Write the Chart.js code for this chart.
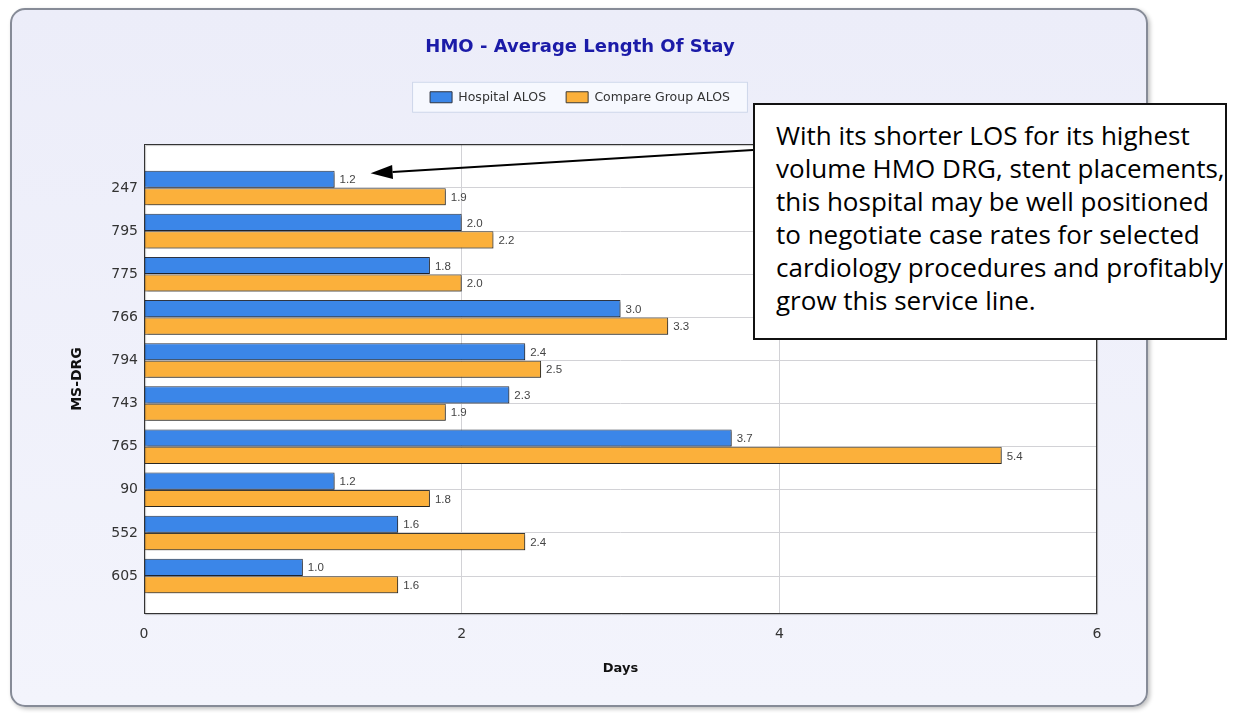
<!DOCTYPE html>
<html>
<head>
<meta charset="utf-8">
<script src="https://cdn.jsdelivr.net/npm/chart.js@4.4.0/dist/chart.umd.min.js"></script>
<style>
  body { margin: 0; background: #fff; width: 1243px; height: 713px; position: relative; overflow: hidden; }
  #panel {
    position: absolute; left: 10px; top: 8px; width: 1138px; height: 699px;
    box-sizing: border-box; border: 2px solid #868b97; border-radius: 15px;
    background: linear-gradient(#ecedf9, #f3f4fc);
    box-shadow: 2px 2px 4px rgba(0,0,0,0.25);
  }
  #chart { position: absolute; left: 10px; top: 8px; }
  #note {
    position: absolute; left: 753px; top: 103px; width: 474px; height: 237px;
    box-sizing: border-box; border: 2px solid #111; background: #fff;
    padding: 14px 0 0 21px;
    font-family: "Open Sans", sans-serif; font-size: 26px; line-height: 33px; color: #000;
    white-space: nowrap;
  }
</style>
</head>
<body>
<div id="panel"></div>
<canvas id="chart" width="1140" height="699"></canvas>
<div id="note">With its shorter LOS for its highest<br>volume HMO DRG, stent placements,<br>this hospital may be well positioned<br>to negotiate case rates for selected<br>cardiology procedures and profitably<br>grow this service line.</div>
<script>
// MS-DRG codes, top to bottom
const drgCodes = ["247", "795", "775", "766", "794", "743", "765", "90", "552", "605"];
const hospitalAlos = [1.2, 2.0, 1.8, 3.0, 2.4, 2.3, 3.7, 1.2, 1.6, 1.0];
const compareAlos = [1.9, 2.2, 2.0, 3.3, 2.5, 1.9, 5.4, 1.8, 2.4, 1.6];
const dayTicks = [0, 2, 4, 6];

const gridColor = "#d2d2d6";
const labelFont = "DejaVu Sans";

/*
-plot background, legend frame, bar shadows, value labels and the callout arrow
*/
const decorations = {
  id: "decorations",
  beforeInit(chart) {
    // leave room between the legend and the plot
    const fit = chart.legend.fit;
    chart.legend.fit = function () {
      fit.bind(chart.legend)();
      this.height += 30.5;
    };
  },
  beforeDraw(chart) {
    const ctx = chart.ctx;
    const a = chart.chartArea;
    ctx.save();
    ctx.fillStyle = "#fff";
    ctx.fillRect(a.left, a.top, a.right - a.left, a.bottom - a.top);
    const boxes = chart.legend.legendHitBoxes;
    if (boxes && boxes.length) {
      const first = boxes[0];
      const last = boxes[boxes.length - 1];
      const x1 = first.left - 18;
      const x2 = last.left + last.width + 18;
      const y1 = first.top + first.height / 2 - 15.5;
      ctx.fillStyle = "#f6f8fe";
      ctx.strokeStyle = "#cdd6ea";
      ctx.lineWidth = 1;
      ctx.fillRect(x1, y1, x2 - x1, 31);
      ctx.strokeRect(x1 + 0.5, y1 + 0.5, x2 - x1 - 1, 30);
    }
    ctx.restore();
  },
  beforeDatasetsDraw(chart) {
    const ctx = chart.ctx;
    ctx.save();
    ctx.shadowColor = "rgba(0,0,0,0.35)";
    ctx.shadowOffsetX = 2;
    ctx.shadowOffsetY = 2;
    ctx.shadowBlur = 2;
  },
  afterDatasetsDraw(chart) {
    const ctx = chart.ctx;
    ctx.restore();
    const a = chart.chartArea;
    ctx.save();
    ctx.font = "11.5px 'Liberation Sans'";
    ctx.fillStyle = "#444";
    ctx.textBaseline = "middle";
    chart.data.datasets.forEach((ds, di) => {
      chart.getDatasetMeta(di).data.forEach((bar, i) => {
        ctx.fillText(ds.data[i].x.toFixed(1), bar.x + 5, bar.y + 1);
      });
    });
    ctx.strokeStyle = "#333";
    ctx.lineWidth = 1;
    ctx.shadowColor = "rgba(0,0,0,0.25)";
    ctx.shadowOffsetX = 1;
    ctx.shadowOffsetY = 1;
    ctx.shadowBlur = 1;
    ctx.strokeRect(a.left + 0.5, a.top + 0.5, a.right - a.left - 1, a.bottom - a.top - 1);
    ctx.restore();
  },
  afterDraw(chart) {
    const ctx = chart.ctx;
    const note = document.getElementById("note");
    const canvas = chart.canvas;
    const sx = note.offsetLeft - canvas.offsetLeft;
    const sy = note.offsetTop - canvas.offsetTop + 47;
    const bar = chart.getDatasetMeta(0).data[0];
    const tx = bar.x + 36;
    const ty = bar.y - 6;
    const ang = Math.atan2(ty - sy, tx - sx);
    const headLen = 22;
    const headW = 7;
    const bx = tx - headLen * Math.cos(ang);
    const by = ty - headLen * Math.sin(ang);
    ctx.save();
    ctx.strokeStyle = "#000";
    ctx.fillStyle = "#000";
    ctx.lineWidth = 2;
    ctx.beginPath();
    ctx.moveTo(sx, sy);
    ctx.lineTo(bx, by);
    ctx.stroke();
    ctx.beginPath();
    ctx.moveTo(tx, ty);
    ctx.lineTo(bx + headW * Math.sin(ang), by - headW * Math.cos(ang));
    ctx.lineTo(bx - headW * Math.sin(ang), by + headW * Math.cos(ang));
    ctx.closePath();
    ctx.fill();
    ctx.restore();
  },
};

const ctx = document.getElementById("chart").getContext("2d");
const chart = new Chart(ctx, {
  type: "bar",
  data: {
    datasets: [
      {
        label: "Hospital ALOS",
        data: hospitalAlos.map((v, i) => ({ x: v, y: i })),
        backgroundColor: "#3b86e8",
        borderColor: "#2f3441",
        borderWidth: 1,
      },
      {
        label: "Compare Group ALOS",
        data: compareAlos.map((v, i) => ({ x: v, y: i })),
        backgroundColor: "#fbb03b",
        borderColor: "#3d3a33",
        borderWidth: 1,
      },
    ],
  },
  options: {
    indexAxis: "y",
    responsive: false,
    animation: false,
    categoryPercentage: 0.81,
    barPercentage: 0.98,
    layout: { padding: { left: 53, right: 53, top: 0, bottom: 0 } },
    plugins: {
      tooltip: { enabled: false },
      title: {
        display: true,
        text: "HMO - Average Length Of Stay",
        color: "#1b1ba8",
        font: { family: labelFont, size: 18, weight: "bold" },
        padding: { top: 29, bottom: 12.4 },
      },
      legend: {
        display: true,
        position: "top",
        labels: {
          boxWidth: 22,
          boxHeight: 11,
          padding: 20,
          color: "#333",
          font: { family: labelFont, size: 12.5 },
        },
      },
    },
    scales: {
      x: {
        type: "linear",
        min: 0,
        max: 6,
        afterBuildTicks: (scale) => {
          scale.ticks = dayTicks.map((v) => ({ value: v }));
        },
        afterFit: (scale) => {
          scale.height = 93;
        },
        grid: { color: gridColor, drawTicks: false },
        border: { display: false },
        ticks: { padding: 12, color: "#333", font: { family: labelFont, size: 14 } },
        title: {
          display: true,
          text: "Days",
          color: "#111",
          font: { family: labelFont, size: 13, weight: "bold" },
          padding: { top: 0, bottom: 31 },
        },
      },
      y: {
        type: "linear",
        reverse: true,
        offset: false,
        min: -1.02,
        max: 9.88,
        afterBuildTicks: (scale) => {
          scale.ticks = drgCodes.map((c, i) => ({ value: i }));
        },
        afterFit: (scale) => {
          scale.width = 81;
        },
        grid: { color: gridColor, drawTicks: false, offset: false },
        border: { display: false },
        ticks: {
          padding: 6,
          color: "#333",
          font: { family: labelFont, size: 14 },
          callback: (v) => drgCodes[v],
        },
        title: {
          display: true,
          text: "MS-DRG",
          color: "#111",
          font: { family: labelFont, size: 14, weight: "bold" },
          padding: { top: 6, bottom: 0 },
        },
      },
    },
  },
  plugins: [decorations],
});
</script>
</body>
</html>
